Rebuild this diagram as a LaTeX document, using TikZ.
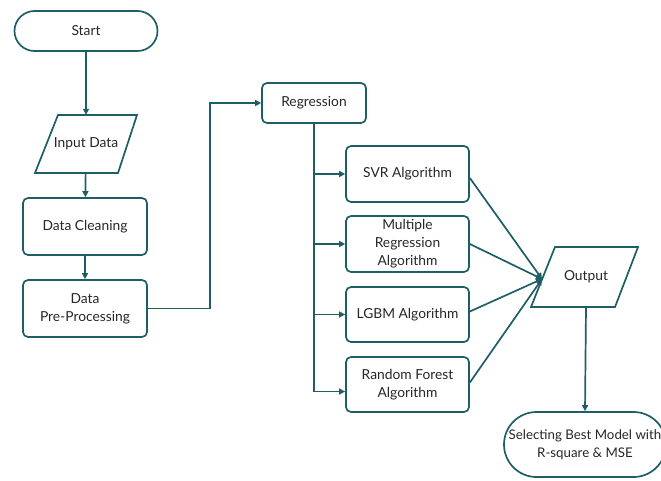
\documentclass[tikz,border=0pt]{standalone}
\usepackage{fontspec}
\setmainfont{Lato}
\usetikzlibrary{shapes.geometric,shapes.misc,arrows.meta,calc}
\definecolor{teal1}{HTML}{1E5F66}
\definecolor{txt}{HTML}{262626}
\begin{document}
\begin{tikzpicture}[x=1pt,y=-1pt,
  every node/.style={font=\fontsize{13.8}{18}\selectfont, text=txt},
  box/.style={draw=teal1, line width=1.7pt, rounded corners=5pt, align=center, inner sep=1pt},
  term/.style={draw=teal1, line width=1.7pt, rounded rectangle, align=center, inner sep=1pt},
  iolabel/.style={align=center, inner sep=0pt},
  ioshape/.style={draw=teal1, line width=1.7pt, line join=miter},
  conn/.style={draw=teal1, line width=1.7pt},
  arr/.style={conn, -{Triangle[length=6pt,width=6pt]}}]
\useasboundingbox (0,0) rectangle (661,480);
\node[term, minimum width=145pt, minimum height=40pt] (start) at (86,31) {Start};
\node[iolabel, minimum width=80pt, minimum height=58pt] (input) at (86,144) {Input Data};
\draw[ioshape] (58,115) -- (137,115) -- (118,173) -- (35,173) -- cycle;
\node[box, minimum width=124pt, minimum height=57pt] (clean) at (85,226.5) {Data Cleaning};
\node[box, minimum width=124pt, minimum height=57pt] (pre) at (85,308.5) {Data\\Pre-Processing};
\node[box, minimum width=104pt, minimum height=40pt] (reg) at (314,103) {Regression};
\node[box, minimum width=123pt, minimum height=56pt] (svr) at (407.5,174) {SVR Algorithm};
\node[box, minimum width=123pt, minimum height=56pt] (mult) at (407.5,244) {Multiple\\Regression\\Algorithm};
\node[box, minimum width=123pt, minimum height=55pt] (lgbm) at (407.5,314.5) {LGBM Algorithm};
\node[box, minimum width=123pt, minimum height=55pt] (rf) at (407.5,384.5) {Random Forest\\Algorithm};
\node[iolabel, minimum width=60pt, minimum height=60pt] (out) at (586,277) {Output};
\draw[ioshape] (555,247) -- (638,247) -- (615,307) -- (531,307) -- cycle;
\coordinate (outin) at (542,279);
\node[term, minimum width=160pt, minimum height=65pt, font=\fontsize{13.3}{18}\selectfont] (sel) at (585,444.5) {Selecting Best Model with\\R-square \& MSE};
\coordinate (rfin) at ($(rf.west)+(0,7)$);
\draw[arr] (start) -- (input);
\draw[arr] (input) -- (clean);
\draw[arr] (clean) -- (pre);
\draw[arr] (pre.east) -- ++(62,0) |- (reg.west);
\draw[arr] (reg.south) |- (svr.west);
\draw[arr] (reg.south) |- (mult.west);
\draw[arr] (reg.south) |- (lgbm.west);
\draw[arr] (reg.south) |- (rfin);
\draw[arr] ($(svr.east)+(0,4)$) -- (outin);
\draw[arr] (mult.east) -- (outin);
\draw[arr] ($(lgbm.east)+(0,-3)$) -- (outin);
\draw[arr] ($(rf.east)+(0,-2)$) -- (outin);
\draw[arr] (out.south) -- (sel.north);
\end{tikzpicture}
\end{document}
